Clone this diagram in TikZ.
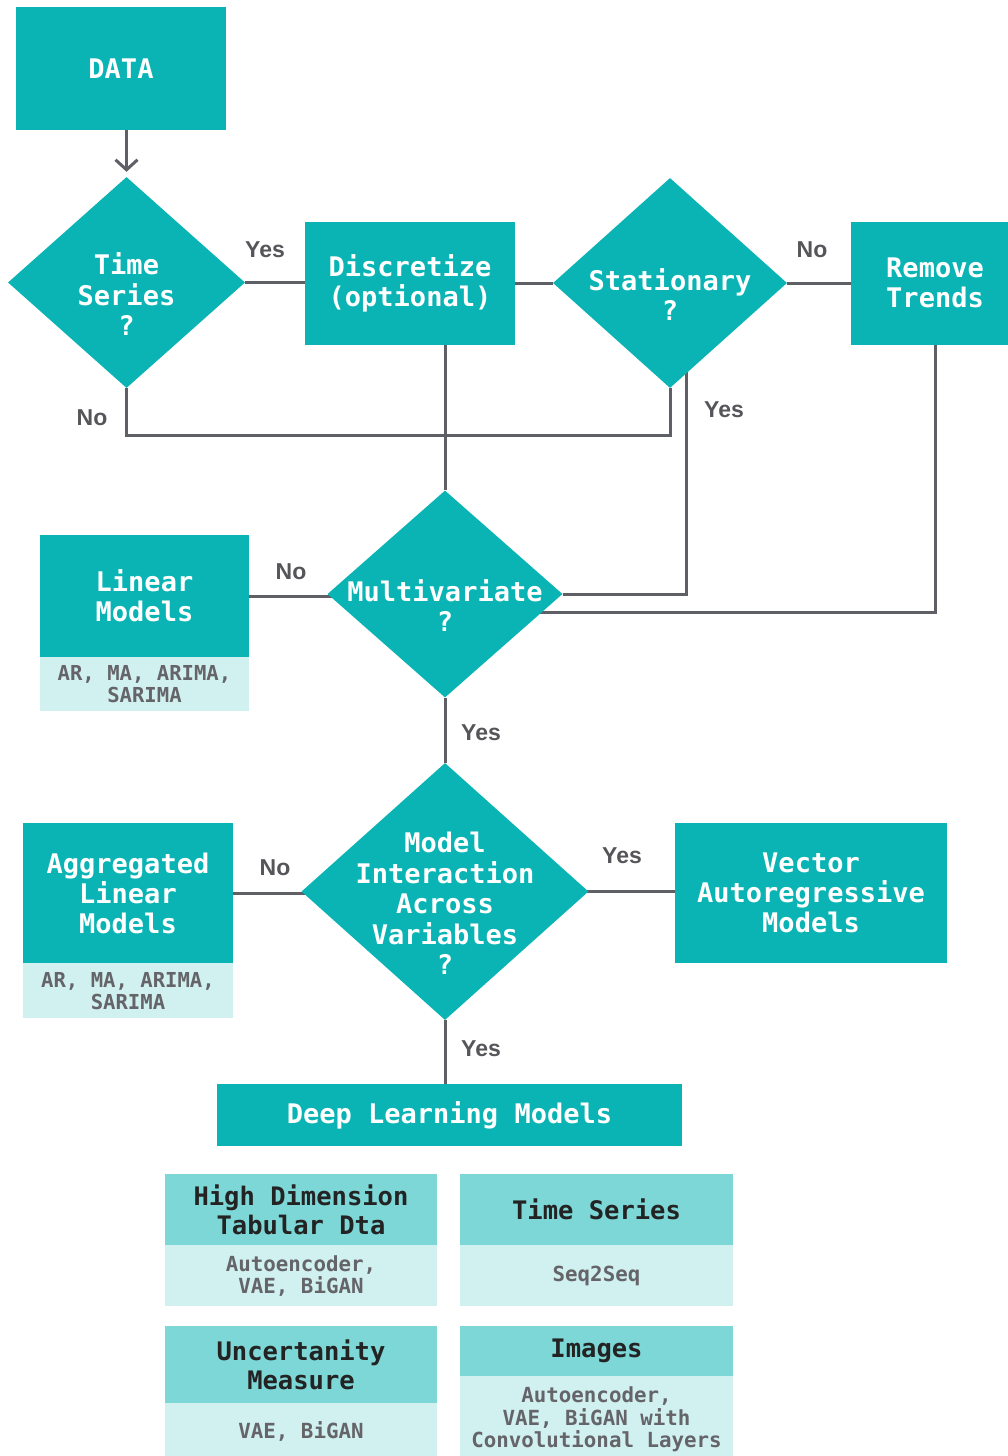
\documentclass[tikz,border=0pt]{standalone}
\usepackage{fontspec}
\setmainfont{Liberation Sans}
\setmonofont{DejaVu Sans Mono}
\usetikzlibrary{arrows.meta, positioning, shapes.geometric, backgrounds}

% text inside a diamond, kept out of the shape size
\newcommand{\diatext}[1]{\smash{\raisebox{-22pt}{\makebox[0pt]{\begin{tabular}[c]{@{}c@{}}#1\end{tabular}}}}}

\begin{document}
\begin{tikzpicture}[x=1pt, y=-1pt,
    box/.style={rectangle, fill=flowteal, text=white, inner sep=0pt, align=center,
      font=\ttfamily\bfseries\fontsize{27}{30}\selectfont},
    dia/.style={diamond, fill=flowteal, text=white, inner sep=0pt,
      font=\ttfamily\bfseries\fontsize{27}{30}\selectfont},
    sub/.style={rectangle, fill=cardbody, text=subgray, inner sep=0pt, align=center,
      font=\ttfamily\bfseries\fontsize{20.6}{22}\selectfont},
    head/.style={rectangle, fill=cardhead, text=headtext, inner sep=0pt, align=center,
      font=\ttfamily\bfseries\fontsize{25.5}{29}\selectfont},
    body/.style={rectangle, fill=cardbody, text=subgray, inner sep=0pt, align=center,
      font=\ttfamily\bfseries\fontsize{20.8}{22.5}\selectfont},
    lbl/.style={text=lblgray, inner sep=0pt, font=\bfseries\fontsize{23}{25}\selectfont},
    conn/.style={draw=linegray, line width=3pt}]

    % Define colors
    \definecolor{flowteal}{RGB}{10,180,180}   % boxes and diamonds
    \definecolor{cardhead}{RGB}{126,215,215}  % card headers
    \definecolor{cardbody}{RGB}{209,240,240}  % card bodies
    \definecolor{linegray}{RGB}{95,95,102}
    \definecolor{lblgray}{RGB}{85,85,90}
    \definecolor{subgray}{RGB}{100,100,105}
    \definecolor{headtext}{RGB}{35,35,35}

    \useasboundingbox (0,0) rectangle (1008,1456);

    % Top row
    \node[box, minimum width=210pt, minimum height=123pt] (data) at (121,68.5) {DATA};
    \node[dia, minimum width=237pt, minimum height=211pt] (ts) at (126.5,282.5) {\diatext{Time\\Series\\?}};
    \node[box, minimum width=210pt, minimum height=123pt] (disc) at (410,283) {Discretize\\(optional)};
    \node[dia, minimum width=234pt, minimum height=210pt] (stat) at (670,283) {\diatext{Stationary\\?}};
    \node[box, minimum width=168pt, minimum height=123pt] (rt) at (935,283) {Remove\\Trends};

    % Multivariate
    \node[dia, minimum width=235pt, minimum height=207pt] (mv) at (445,594) {\diatext{Multivariate\\?}};
    \node[box, minimum width=209pt, minimum height=122pt] (lm) at (144.5,596) {Linear\\Models};
    \node[sub, minimum width=209pt, minimum height=54pt, anchor=north] (lmsub) at (lm.south) {AR, MA, ARIMA,\\SARIMA};

    % Interaction
    \node[dia, minimum width=287pt, minimum height=257pt] (mi) at (445,891.5) {\diatext{Model\\Interaction\\Across\\Variables\\?}};
    \node[box, minimum width=210pt, minimum height=140pt] (alm) at (128,893) {Aggregated\\Linear\\Models};
    \node[sub, minimum width=210pt, minimum height=55pt, anchor=north] (almsub) at (alm.south) {AR, MA, ARIMA,\\SARIMA};
    \node[box, minimum width=272pt, minimum height=140pt] (var) at (811,893) {Vector\\Autoregressive\\Models};

    % Deep learning
    \node[box, minimum width=465pt, minimum height=62pt] (dlm) at (449.5,1115) {Deep Learning Models};

    % Cards
    \node[head, minimum width=272pt, minimum height=71pt] (hdt) at (301,1209.5) {High Dimension\\Tabular Dta};
    \node[body, minimum width=272pt, minimum height=61pt, anchor=north] (hdtbody) at (hdt.south) {Autoencoder,\\VAE, BiGAN};
    \node[head, minimum width=273pt, minimum height=71pt] (tsr) at (596.5,1209.5) {Time Series};
    \node[body, minimum width=273pt, minimum height=61pt, anchor=north] (tsrbody) at (tsr.south) {Seq2Seq};
    \node[head, minimum width=272pt, minimum height=77pt] (unc) at (301,1364.5) {Uncertanity\\Measure};
    \node[body, minimum width=272pt, minimum height=56pt, anchor=north] (uncbody) at (unc.south) {VAE, BiGAN};
    \node[head, minimum width=273pt, minimum height=50pt] (img) at (596.5,1351) {Images};
    \node[body, minimum width=273pt, minimum height=86pt, anchor=north] (imgbody) at (img.south) {Autoencoder,\\VAE, BiGAN with\\Convolutional Layers};

    % Branch labels
    \node[lbl] (tsyes) at (265,250) {Yes};
    \node[lbl] (tsno) at (92,418) {No};
    \node[lbl] (statno) at (812,250) {No};
    \node[lbl] (statyes) at (724,410) {Yes};
    \node[lbl] (mvno) at (291,572) {No};
    \node[lbl] (mvyes) at (481,733) {Yes};
    \node[lbl] (mino) at (275,868) {No};
    \node[lbl] (miyes) at (622,856) {Yes};
    \node[lbl] (midown) at (481,1049) {Yes};

    % Helper coordinates
    \coordinate (rowa) at (0,435);
    \coordinate (rowb) at (0,612);
    \coordinate (yesx) at (686,0);

    % Connectors
    \begin{pgfonlayer}{background}
    \draw[conn, -{Straight Barb[length=10pt,width=22pt]}, shorten >=5pt] (ts.north |- data.south) -- (ts.north);
    \draw[conn] (ts.east) -- (ts.east -| disc.west);
    \draw[conn] (disc.east) -- (disc.east -| stat.west);
    \draw[conn] (stat.east) -- (stat.east -| rt.west);
    \draw[conn] (ts.south) |- (stat.south |- rowa) -- (stat.south);
    \draw[conn] (disc.south -| mv.north) -- (mv.north);
    \draw[conn] (stat.center -| yesx) |- (mv.east);
    \draw[conn] (rt.south) |- (mv.center |- rowb);
    \draw[conn] (lm.east) -- (lm.east -| mv.center);
    \draw[conn] (mv.south) -- (mi.north);
    \draw[conn] (alm.east) -- (alm.east -| mi.center);
    \draw[conn] (mi.center) -- (mi.center -| var.west);
    \draw[conn] (mi.south) -- (mi.south |- dlm.north);
    \end{pgfonlayer}

\end{tikzpicture}
\end{document}
